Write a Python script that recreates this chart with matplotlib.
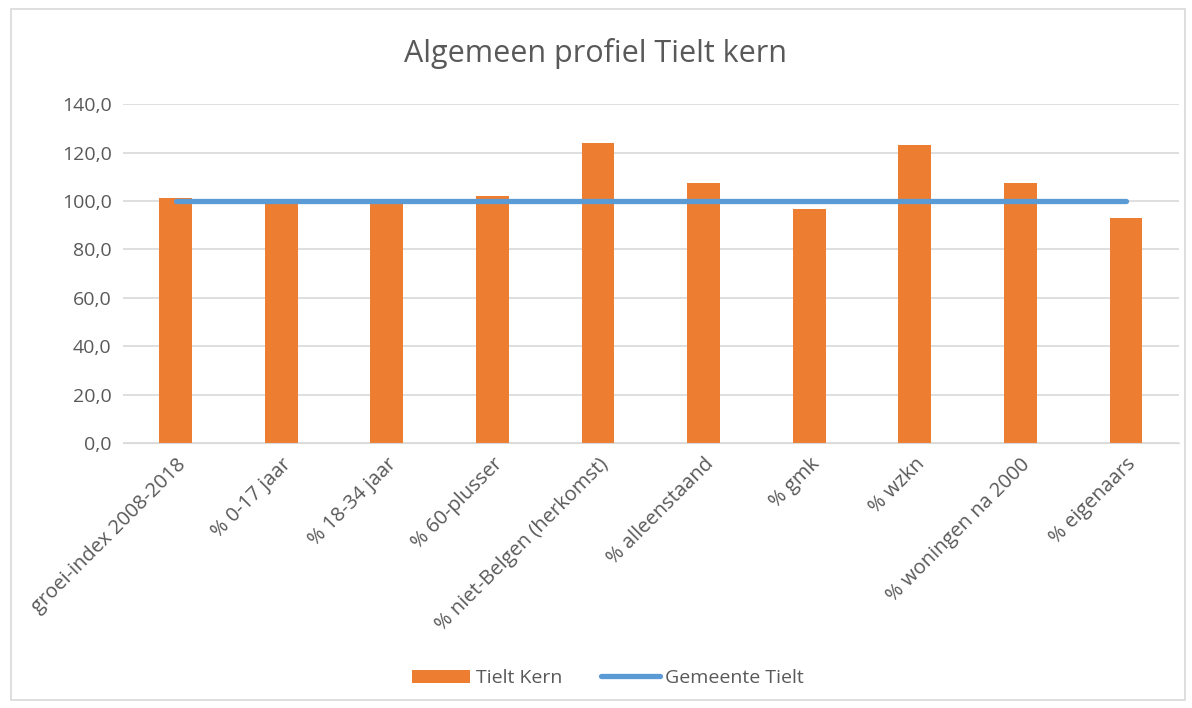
import matplotlib.pyplot as plt
import numpy as np
from matplotlib.patches import Rectangle

categories = ['groei-index 2008-2018', '% 0-17 jaar', '% 18-34 jaar', '% 60-plusser',
              '% niet-Belgen (herkomst)', '% alleenstaand', '% gmk', '% wzkn',
              '% woningen na 2000', '% eigenaars']
tielt_kern = [101.1, 99.4, 99.4, 102.0, 123.8, 107.5, 96.5, 123.0, 107.5, 93.1]
gemeente_tielt = [100.0] * 10

plt.rcParams['font.family'] = ['Open Sans', 'DejaVu Sans']
text_col = '#595959'

fig = plt.figure(figsize=(11.92, 7.08), dpi=100)
fig.patches.append(Rectangle((0.009, 0.012), 0.985, 0.975, transform=fig.transFigure,
                             fill=False, edgecolor='#d9d9d9', linewidth=1.2))
ax = fig.add_axes([0.103, 0.374, 0.886, 0.479])

x = np.arange(len(categories))
bars = ax.bar(x, tielt_kern, width=0.31, color='#ed7d31', label='Tielt Kern', zorder=2)
line, = ax.plot(x, gemeente_tielt, color='#5b9bd5', linewidth=3.8, solid_capstyle='round',
                label='Gemeente Tielt', zorder=3)

ax.set_xlim(-0.5, len(categories) - 0.5)
ax.set_ylim(0, 140)
yt = np.arange(0, 141, 20)
ax.set_yticks(yt)
ax.set_yticklabels([f'{v:.1f}'.replace('.', ',') for v in yt], fontsize=14, color=text_col)
ax.set_xticks(x)
ax.set_xticklabels(categories, rotation=45, ha='right', rotation_mode='anchor',
                   fontsize=14.5, color=text_col)
ax.tick_params(axis='both', length=0, pad=8)
ax.grid(axis='y', color='#d9d9d9', linewidth=1.2, zorder=0)
for s in ['top', 'right', 'left']:
    ax.spines[s].set_visible(False)
ax.spines['bottom'].set_color('#d9d9d9')

fig.text(0.5, 0.925, 'Algemeen profiel Tielt kern', ha='center', va='center',
         fontsize=22, color=text_col)
fig.legend([bars, line], ['Tielt Kern', 'Gemeente Tielt'], loc='center',
           bbox_to_anchor=(0.51, 0.042), ncol=2, frameon=False,
           fontsize=14, labelcolor=text_col, handlelength=3, columnspacing=2.0,
           handletextpad=0.3)

fig.savefig('out.png', dpi=100)
